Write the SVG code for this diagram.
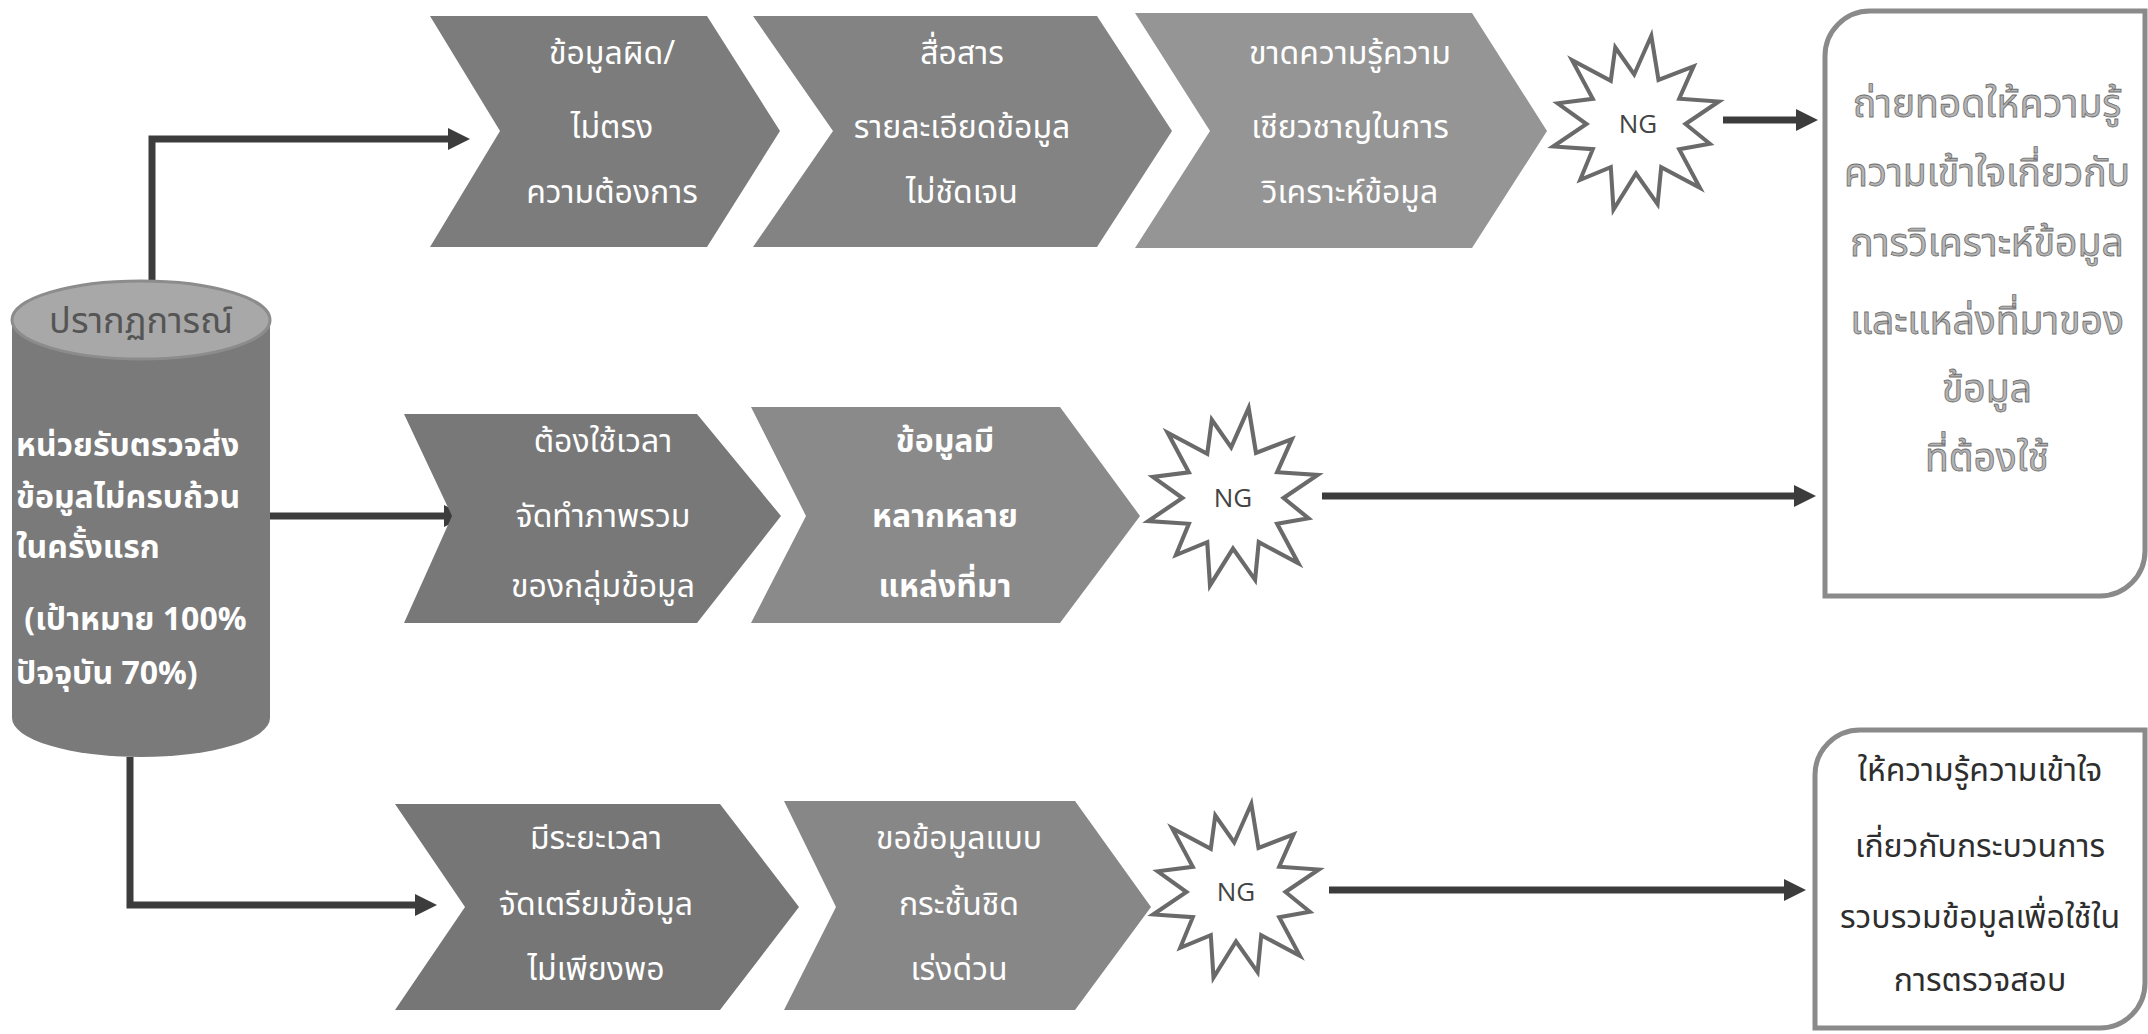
<svg xmlns="http://www.w3.org/2000/svg" width="2148" height="1034" viewBox="0 0 2148 1034">
<defs>
<style>
.th{font-family:"Noto Sans Thai","Noto Sans","DejaVu Sans",sans-serif;}
.chev{stroke:none;}
.ct{fill:#ffffff;font-size:32px;text-anchor:middle;}
.cyl{fill:#ffffff;font-size:32px;font-weight:bold;}
.conn{fill:none;stroke:#3c3c3c;stroke-width:7;}
.star{fill:#ffffff;stroke:#6a6a6a;stroke-width:4.5;stroke-linejoin:miter;}
.ng{font-family:"Open Sans","Noto Sans",sans-serif;font-size:26px;fill:#444;text-anchor:middle;}
.box{fill:#ffffff;stroke:#8a8a8a;stroke-width:5;}
.bt1{fill:#b4b4b4;stroke:#6e6e6e;stroke-width:0.8;font-size:39px;text-anchor:middle;}
.bt2{fill:#2e2e2e;font-size:32px;text-anchor:middle;}
</style>
<marker id="ah" markerUnits="userSpaceOnUse" markerWidth="24" markerHeight="24" refX="6" refY="11" orient="auto">
<path d="M0,0 L22,11 L0,22 Z" fill="#3c3c3c"/>
</marker>
<polygon id="starShape" points="17,-98 25,-49 64,-64 48,-28 92,-25 55,0 82,22 48,28 71,71 28,48 24,89 0,55 -25,95 -28,48 -62,62 -48,28 -92,25 -55,0 -87,-23 -48,-28 -71,-71 -28,-48 -23,-85 -2,-55"/>
</defs>
<rect x="0" y="0" width="2148" height="1034" fill="#ffffff"/>

<g id="connectors">
<path class="conn" d="M152,282 V139 H454" marker-end="url(#ah)"/>
<path class="conn" d="M270,516 H450" marker-end="url(#ah)"/>
<path class="conn" d="M130,757 V905 H421" marker-end="url(#ah)"/>
<path class="conn" d="M1723,120 H1802" marker-end="url(#ah)"/>
<path class="conn" d="M1322,496 H1800" marker-end="url(#ah)"/>
<path class="conn" d="M1329,890 H1790" marker-end="url(#ah)"/>
</g>

<g id="cylinder">
<path d="M12,320 V718 A129,39 0 0 0 270,718 V320 Z" fill="#7a7a7a"/>
<ellipse cx="141" cy="320" rx="129" ry="39" fill="#a8a8a8" stroke="#8c8c8c" stroke-width="3"/>
<text class="th" x="141" y="333" font-size="36" fill="#555555" text-anchor="middle">ปรากฏการณ์</text>
<text class="th cyl" x="16" y="456">หน่วยรับตรวจส่ง</text>
<text class="th cyl" x="16" y="508">ข้อมูลไม่ครบถ้วน</text>
<text class="th cyl" x="16" y="558">ในครั้งแรก</text>
<text class="th cyl" x="16" y="630" xml:space="preserve"> (เป้าหมาย 100%</text>
<text class="th cyl" x="16" y="684">ปัจจุบัน 70%)</text>
</g>

<g id="c1">
<polygon class="chev" points="430,16 707,16 780,131 707,247 430,247 500,131" fill="#7c7c7c"/>
<text class="th ct" x="612" y="64">ข้อมูลผิด/</text>
<text class="th ct" x="612" y="138">ไม่ตรง</text>
<text class="th ct" x="612" y="203">ความต้องการ</text>
</g>
<g id="c2">
<polygon class="chev" points="753,16 1097,16 1172,131 1097,247 753,247 833,131" fill="#838383"/>
<text class="th ct" x="962" y="64">สื่อสาร</text>
<text class="th ct" x="962" y="138">รายละเอียดข้อมูล</text>
<text class="th ct" x="962" y="203">ไม่ชัดเจน</text>
</g>
<g id="c3">
<polygon class="chev" points="1135,13 1472,13 1547,131 1472,248 1135,248 1210,131" fill="#959595"/>
<text class="th ct" x="1350" y="64">ขาดความรู้ความ</text>
<text class="th ct" x="1350" y="138">เชียวชาญในการ</text>
<text class="th ct" x="1350" y="203">วิเคราะห์ข้อมูล</text>
</g>
<g id="ng1">
<use href="#starShape" class="star" transform="translate(1636,124) scale(0.9)"/>
<text class="ng" x="1638" y="133">NG</text>
</g>
<g id="box1">
<path class="box" d="M1870,11 H2145 V551 A45,45 0 0 1 2100,596 H1825 V56 A45,45 0 0 1 1870,11 Z"/>
<text class="th bt1" x="1987" y="117">ถ่ายทอดให้ความรู้</text>
<text class="th bt1" x="1987" y="186">ความเข้าใจเกี่ยวกับ</text>
<text class="th bt1" x="1987" y="256">การวิเคราะห์ข้อมูล</text>
<text class="th bt1" x="1987" y="334">และแหล่งที่มาของ</text>
<text class="th bt1" x="1987" y="402">ข้อมูล</text>
<text class="th bt1" x="1987" y="471">ที่ต้องใช้</text>
</g>

<g id="c4">
<polygon class="chev" points="404,414 697,414 781,516 697,623 404,623 452,516" fill="#787878"/>
<text class="th ct" x="603" y="452">ต้องใช้เวลา</text>
<text class="th ct" x="603" y="527">จัดทำภาพรวม</text>
<text class="th ct" x="603" y="597">ของกลุ่มข้อมูล</text>
</g>
<g id="c5">
<polygon class="chev" points="751,407 1060,407 1140,516 1060,623 751,623 806,516" fill="#8a8a8a"/>
<text class="th ct" x="945" y="452" font-weight="bold">ข้อมูลมี</text>
<text class="th ct" x="945" y="527" font-weight="bold">หลากหลาย</text>
<text class="th ct" x="945" y="597" font-weight="bold">แหล่งที่มา</text>
</g>
<g id="ng2">
<use href="#starShape" class="star" transform="translate(1233,498) scale(0.92)"/>
<text class="ng" x="1233" y="507">NG</text>
</g>

<g id="c6">
<polygon class="chev" points="395,804 720,804 799,907 720,1010 395,1010 465,907" fill="#767676"/>
<text class="th ct" x="596" y="849">มีระยะเวลา</text>
<text class="th ct" x="596" y="915">จัดเตรียมข้อมูล</text>
<text class="th ct" x="596" y="980">ไม่เพียงพอ</text>
</g>
<g id="c7">
<polygon class="chev" points="784,801 1075,801 1151,907 1075,1010 784,1010 836,907" fill="#878787"/>
<text class="th ct" x="959" y="849">ขอข้อมูลแบบ</text>
<text class="th ct" x="959" y="915">กระชั้นชิด</text>
<text class="th ct" x="959" y="980">เร่งด่วน</text>
</g>
<g id="ng3">
<use href="#starShape" class="star" transform="translate(1236,892) scale(0.9)"/>
<text class="ng" x="1236" y="901">NG</text>
</g>
<g id="box2">
<path class="box" d="M1860,730 H2145 V983 A45,45 0 0 1 2100,1028 H1815 V775 A45,45 0 0 1 1860,730 Z"/>
<text class="th bt2" x="1980" y="781">ให้ความรู้ความเข้าใจ</text>
<text class="th bt2" x="1980" y="857">เกี่ยวกับกระบวนการ</text>
<text class="th bt2" x="1980" y="928">รวบรวมข้อมูลเพื่อใช้ใน</text>
<text class="th bt2" x="1980" y="991">การตรวจสอบ</text>
</g>
</svg>
